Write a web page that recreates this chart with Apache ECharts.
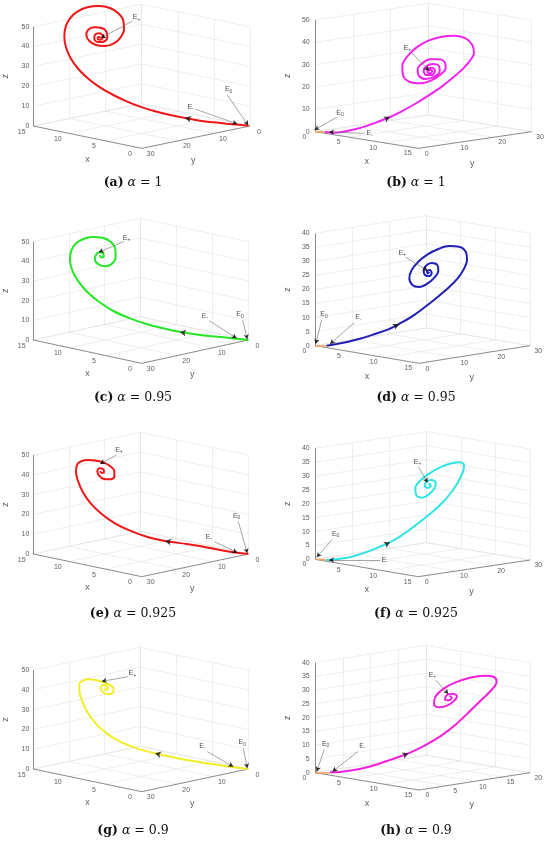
<!DOCTYPE html>
<html>
<head>
<meta charset="utf-8">
<script src="https://cdn.jsdelivr.net/npm/echarts@6/dist/echarts.min.js"></script>
<style>
html, body { margin: 0; padding: 0; background: #fff; }
#main { width: 550px; height: 842px; }
</style>
</head>
<body>
<div id="main"></div>
<script>
// tick values of the 3D boxes
var xTicks = [0, 5, 10, 15];
var yTicks30 = [0, 10, 20, 30];
var yTicks20 = [0, 5, 10, 15, 20];
var zTicks50 = [0, 10, 20, 30, 40, 50];
var zTicks40 = [0, 5, 10, 15, 20, 25, 30, 35, 40];

var panelLetters = ['a', 'b', 'c', 'd', 'e', 'f', 'g', 'h'];
var alphas = ['1', '1', '0.95', '0.95', '0.925', '0.925', '0.9', '0.9'];

// trajectories in the projected (screen) plane of each panel
var curveA = [[745,377],[715,374],[680,371],[640,367],[600,362],[555,354],[510,345],[465,334],[420,320],[380,304],[340,285],[300,262],[265,236],[235,207],[212,175],[198,142],[193,110],[197,80],[210,55],[232,35],[262,22],[297,18],[330,24],[355,40],[370,62],[372,88],[362,112],[342,130],[315,138],[288,135],[268,123],[259,105],[264,90],[282,82],[305,84],[320,97],[322,113],[310,125],[293,126],[283,116],[285,104],[298,100],[308,108],[305,118],[296,119],[293,112],[299,111],[300,115]];
var curveB = [[150,396],[175,398],[205,395],[240,388],[280,376],[315,363],[345,351],[380,334],[420,312],[460,287],[500,260],[535,232],[565,205],[585,182],[597,160],[592,135],[572,115],[540,107],[500,110],[460,122],[425,142],[398,168],[382,198],[385,228],[405,246],[435,250],[468,242],[495,225],[512,205],[510,188],[492,178],[465,178],[442,190],[428,208],[432,228],[452,237],[478,230],[494,214],[492,198],[474,192],[455,198],[446,212],[453,225],[470,225],[480,213],[472,203],[460,206],[457,216],[466,220],[472,213],[465,209],[462,214]];
var curveC = [[745,420],[710,416],[670,412],[620,407],[575,401],[540,396],[490,385],[440,372],[390,355],[340,333],[298,306],[262,276],[235,244],[217,212],[210,180],[214,152],[228,130],[250,117],[278,111],[307,113],[332,125],[346,147],[347,172],[336,191],[316,199],[296,193],[285,179],[288,164],[299,157],[310,160],[311,170],[303,172],[300,166]];
var curveD = [[155,437],[185,432],[220,425],[260,415],[300,402],[340,388],[372,372],[410,350],[450,321],[488,291],[522,262],[548,235],[566,208],[576,180],[572,155],[552,140],[522,138],[490,147],[458,163],[430,185],[410,210],[403,235],[412,255],[432,261],[457,251],[478,233],[490,212],[487,195],[470,189],[453,197],[446,212],[451,226],[464,228],[470,218],[464,210],[456,214],[459,220],[463,216]];
var curveE = [[745,432],[710,428],[660,420],[610,410],[560,402],[495,393],[440,380],[390,362],[345,340],[305,312],[272,280],[248,245],[233,210],[228,185],[232,163],[245,153],[265,150],[290,152],[312,158],[330,168],[343,183],[343,200],[330,208],[312,207],[297,197],[292,183],[298,175],[310,178],[312,187],[304,189],[301,183]];
var curveF = [[155,450],[190,447],[230,440],[270,428],[310,412],[345,397],[380,376],[420,347],[460,316],[495,285],[525,252],[548,218],[563,188],[567,165],[555,157],[530,160],[500,170],[467,188],[438,210],[421,235],[424,256],[442,263],[463,252],[479,234],[482,218],[470,210],[455,214],[449,227],[458,234],[467,229],[465,222],[460,224]];
var curveG = [[745,447],[705,442],[660,436],[610,428],[560,420],[510,410],[465,400],[410,385],[360,365],[320,340],[287,310],[262,276],[246,242],[238,212],[238,192],[248,182],[266,178],[287,180],[308,186],[328,194],[341,207],[338,219],[322,223],[307,215],[302,202],[311,195],[323,200],[322,210],[313,208]];
var curveH = [[165,457],[200,455],[250,448],[300,435],[350,418],[400,400],[450,376],[500,346],[545,311],[585,273],[622,237],[652,207],[665,185],[657,171],[628,167],[585,173],[540,188],[503,208],[480,233],[477,254],[494,262],[518,256],[538,242],[546,228],[532,221],[515,226],[510,238],[522,241],[530,233],[524,228]];

// equilibrium annotations: subscript, label spot, arrow tail, arrow tip
var marksA = [['+',[410,52],[396,64],[303,114]], ['0',[686,268],[682,285],[745,376]], ['-',[572,320],[588,328],[712,372]]];
var marksB = [['+',[397,143],[410,158],[462,212]], ['0',[195,338],[185,352],[118,390]], ['-',[284,400],[268,400],[162,396]]];
var marksC = [['+',[380,113],[370,125],[296,157]], ['-',[615,347],[628,362],[710,415]], ['0',[720,343],[728,360],[742,418]]];
var marksD = [['+',[382,158],[392,172],[458,212]], ['0',[147,343],[140,360],[122,432]], ['-',[250,352],[238,368],[165,432]]];
var marksE = [['+',[357,120],[350,135],[300,162]], ['-',[627,380],[643,395],[712,428]], ['0',[710,318],[715,335],[742,430]]];
var marksF = [['+',[428,155],[430,170],[458,218]], ['0',[182,372],[172,388],[125,442]], ['-',[329,450],[315,450],[162,450]]];
var marksG = [['+',[397,160],[385,170],[305,184]], ['-',[607,378],[622,395],[700,440]], ['0',[727,367],[730,385],[742,445]]];
var marksH = [['+',[472,165],[482,180],[520,222]], ['0',[152,372],[148,388],[125,455]], ['-',[262,378],[248,395],[172,455]]];

// where the direction arrows sit on each trajectory
var flowSpots = [[555,354],[345,351],[540,396],[372,372],[495,393],[345,397],[465,400],[400,400]];

var panels = [
  { type: 'A', L: [100,378], F: [425,445], R: [750,378], zTop: 80,  yTicks: yTicks30, zTicks: zTicks50, curve: curveA, marks: marksA, color: '#ee1616' },
  { type: 'B', L: [120,395], F: [430,445], R: [770,395], zTop: 60,  yTicks: yTicks30, zTicks: zTicks50, curve: curveB, marks: marksB, color: '#f024ec' },
  { type: 'A', L: [100,420], F: [425,490], R: [745,420], zTop: 125, yTicks: yTicks30, zTicks: zTicks50, curve: curveC, marks: marksC, color: '#26e626' },
  { type: 'B', L: [120,437], F: [432,490], R: [765,437], zTop: 100, yTicks: yTicks30, zTicks: zTicks40, curve: curveD, marks: marksD, color: '#2020b4' },
  { type: 'A', L: [100,432], F: [425,500], R: [745,432], zTop: 135, yTicks: yTicks30, zTicks: zTicks50, curve: curveE, marks: marksE, color: '#ee1616' },
  { type: 'B', L: [120,448], F: [430,500], R: [765,450], zTop: 115, yTicks: yTicks30, zTicks: zTicks40, curve: curveF, marks: marksF, color: '#2ee4e4' },
  { type: 'A', L: [100,447], F: [425,515], R: [745,447], zTop: 150, yTicks: yTicks30, zTicks: zTicks50, curve: curveG, marks: marksG, color: '#f2ee26' },
  { type: 'B', L: [120,458], F: [432,510], R: [765,458], zTop: 128, yTicks: yTicks20, zTicks: zTicks40, curve: curveH, marks: marksH, color: '#f020dc' }
];

var rowTops = [0, 200, 410, 620];
var captionY = [183, 398, 614, 831];
var captionX = [133, 416];
var sansFont = 'Liberation Sans';

function makeProj(p) {
  var xm = xTicks[xTicks.length - 1];
  var ym = p.yTicks[p.yTicks.length - 1];
  var zm = p.zTicks[p.zTicks.length - 1];
  var o, ex, ey;
  if (p.type === 'A') {
    o = p.R;
    ex = [(p.L[0] - p.F[0]) / xm, (p.L[1] - p.F[1]) / xm];
    ey = [(p.F[0] - p.R[0]) / ym, (p.F[1] - p.R[1]) / ym];
  } else {
    o = p.L;
    ex = [(p.F[0] - p.L[0]) / xm, (p.F[1] - p.L[1]) / xm];
    ey = [(p.R[0] - p.F[0]) / ym, (p.R[1] - p.F[1]) / ym];
  }
  var ez = (p.zTop - p.L[1]) / zm;
  return function (x, y, z) {
    return [o[0] + x * ex[0] + y * ey[0], o[1] + x * ex[1] + y * ey[1] + z * ez];
  };
}

function headAngle(a, b) {
  var dx = b[0] - a[0], dy = b[1] - a[1];
  return Math.atan2(-dx, -dy) * 180 / Math.PI;
}

var grids = [], xAxes = [], yAxes = [], series = [], graphics = [];

panels.forEach(function (p, i) {
  var col = i % 2, row = Math.floor(i / 2);
  grids.push({ left: col * 275, top: rowTops[row], width: 275, height: 195 });
  xAxes.push({ gridIndex: i, type: 'value', min: 0, max: 825, show: false });
  yAxes.push({ gridIndex: i, type: 'value', min: 0, max: 585, inverse: true, show: false });

  var P = makeProj(p);
  var xm = xTicks[xTicks.length - 1];
  var ym = p.yTicks[p.yTicks.length - 1];
  var zm = p.zTicks[p.zTicks.length - 1];
  var A = p.type === 'A';
  var xw = A ? xm : 0, yw = A ? 0 : ym;
  var zx = A ? xm : 0, zy = A ? ym : 0;
  var xLineY = A ? ym : 0, yLineX = A ? 0 : xm;

  // light grid on floor and the two back walls
  var segs = [];
  xTicks.forEach(function (x) { segs.push([P(x, 0, 0), P(x, ym, 0)]); });
  p.yTicks.forEach(function (y) { segs.push([P(0, y, 0), P(xm, y, 0)]); });
  p.yTicks.forEach(function (y) { segs.push([P(xw, y, 0), P(xw, y, zm)]); });
  p.zTicks.forEach(function (z) { segs.push([P(xw, 0, z), P(xw, ym, z)]); });
  xTicks.forEach(function (x) { segs.push([P(x, yw, 0), P(x, yw, zm)]); });
  p.zTicks.forEach(function (z) { segs.push([P(0, yw, z), P(xm, yw, z)]); });
  series.push({
    type: 'lines', coordinateSystem: 'cartesian2d', xAxisIndex: i, yAxisIndex: i, silent: true, z: 1,
    lineStyle: { color: '#e2e2e2', width: 0.6, opacity: 1 },
    data: segs.map(function (s) { return { coords: s }; })
  });

  // axis lines
  var axisSegs = [
    [P(zx, zy, 0), P(zx, zy, zm)],
    [P(0, xLineY, 0), P(xm, xLineY, 0)],
    [P(yLineX, 0, 0), P(yLineX, ym, 0)]
  ];
  series.push({
    type: 'lines', coordinateSystem: 'cartesian2d', xAxisIndex: i, yAxisIndex: i, silent: true, z: 2,
    lineStyle: { color: '#4a4a4a', width: 0.6, opacity: 1 },
    data: axisSegs.map(function (s) { return { coords: s }; })
  });

  // tick labels and axis names
  var labels = [];
  var zOff = A ? -12 : -16;
  p.zTicks.forEach(function (z) {
    var q = P(zx, zy, z);
    labels.push({ value: [q[0] + zOff, q[1]], label: { formatter: String(z), align: 'right' } });
  });
  var xOff = A ? [-35, 17] : [-32, 15];
  xTicks.forEach(function (x) {
    var q = P(x, xLineY, 0);
    labels.push({ value: [q[0] + xOff[0], q[1] + xOff[1]], label: { formatter: String(x) } });
  });
  var yOff = A ? [27, 17] : [25, 16];
  p.yTicks.forEach(function (y) {
    var q = P(yLineX, y, 0);
    labels.push({ value: [q[0] + yOff[0], q[1] + yOff[1]], label: { formatter: String(y) } });
  });
  var xMid = P(xm / 2, xLineY, 0), yMid = P(yLineX, ym / 2, 0), zMid = P(zx, zy, zm / 2);
  labels.push({ value: [xMid[0], xMid[1] + 66], label: { formatter: 'x', fontSize: 9 } });
  labels.push({ value: [yMid[0] - 8, yMid[1] + 70], label: { formatter: 'y', fontSize: 9 } });
  labels.push({ value: [zMid[0] - 82, zMid[1]], label: { formatter: 'z', fontSize: 9, rotate: 90 } });
  series.push({
    type: 'scatter', xAxisIndex: i, yAxisIndex: i, silent: true, z: 3,
    symbolSize: 1, itemStyle: { color: 'rgba(0,0,0,0)' },
    label: { show: true, position: 'inside', color: '#333', fontFamily: sansFont, fontSize: 7, verticalAlign: 'middle' },
    data: labels
  });

  // the trajectory
  series.push({
    type: 'line', xAxisIndex: i, yAxisIndex: i, silent: true, z: 5,
    data: p.curve, showSymbol: false, smooth: 0.35,
    lineStyle: { color: p.color, width: 2 }
  });

  // small orange start segment at the origin
  var o0 = P(0, 0, 0);
  series.push({
    type: 'lines', coordinateSystem: 'cartesian2d', xAxisIndex: i, yAxisIndex: i, silent: true, z: 4,
    lineStyle: { color: '#f0a060', width: 1.5, opacity: 1 },
    data: [{ coords: [p.curve[0], o0] }]
  });

  // direction arrow on the curve
  var spot = flowSpots[i], best = 1, bd = Infinity;
  for (var k = 1; k < p.curve.length - 1; k++) {
    var d = Math.pow(p.curve[k][0] - spot[0], 2) + Math.pow(p.curve[k][1] - spot[1], 2);
    if (d < bd) { bd = d; best = k; }
  }
  series.push({
    type: 'scatter', xAxisIndex: i, yAxisIndex: i, silent: true, z: 7,
    symbol: 'arrow', symbolSize: [5, 6], itemStyle: { color: '#111' },
    data: [{ value: p.curve[best], symbolRotate: headAngle(p.curve[best - 1], p.curve[best + 1]) }]
  });

  // equilibrium arrows and labels
  series.push({
    type: 'lines', coordinateSystem: 'cartesian2d', xAxisIndex: i, yAxisIndex: i, silent: true, z: 8,
    lineStyle: { color: '#6a6a6a', width: 0.6, opacity: 1 },
    data: p.marks.map(function (m) { return { coords: [m[2], m[3]] }; })
  });
  series.push({
    type: 'scatter', xAxisIndex: i, yAxisIndex: i, silent: true, z: 9,
    symbol: 'arrow', symbolSize: [4, 5], itemStyle: { color: '#000' },
    data: p.marks.map(function (m) { return { value: m[3], symbolRotate: headAngle(m[2], m[3]) }; })
  });
  series.push({
    type: 'scatter', xAxisIndex: i, yAxisIndex: i, silent: true, z: 9,
    symbolSize: 1, itemStyle: { color: 'rgba(0,0,0,0)' },
    label: {
      show: true, position: 'inside', color: '#222',
      rich: {
        e: { fontFamily: sansFont, fontSize: 7, color: '#222' },
        s: { fontFamily: sansFont, fontSize: 5, color: '#222', padding: [4, 0, 0, 0] }
      }
    },
    data: p.marks.map(function (m) {
      return { value: m[1], label: { formatter: '{e|E}{s|' + m[0] + '}' } };
    })
  });

  // caption
  graphics.push({
    type: 'text', x: captionX[col], y: captionY[row],
    style: {
      text: '{b|(' + panelLetters[i] + ')} {i|α} {n|= ' + alphas[i] + '}',
      fill: '#111', fontFamily: 'DejaVu Serif', fontSize: 12.5,
      align: 'center', verticalAlign: 'middle',
      rich: {
        b: { fontFamily: 'DejaVu Serif', fontSize: 12.5, fontWeight: 'bold', fill: '#111' },
        i: { fontFamily: 'DejaVu Serif', fontSize: 12.5, fontStyle: 'italic', fill: '#111' },
        n: { fontFamily: 'DejaVu Serif', fontSize: 12.5, fill: '#111' }
      }
    }
  });
});

var chart = echarts.init(document.getElementById('main'));
chart.setOption({
  animation: false,
  backgroundColor: '#fff',
  grid: grids,
  xAxis: xAxes,
  yAxis: yAxes,
  series: series,
  graphic: graphics
});
</script>
</body>
</html>
